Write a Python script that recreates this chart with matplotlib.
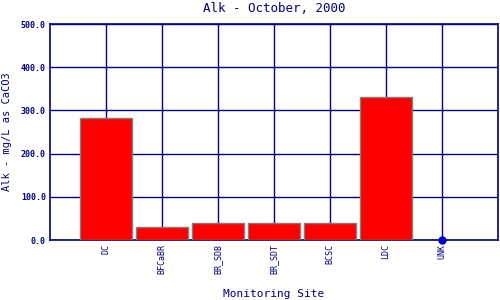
import numpy as np
import matplotlib
matplotlib.use("Agg")
import matplotlib.pyplot as plt

sites = ["DC", "BFCaBR", "BR_SDB", "BR_SDT", "BCSC", "LDC", "UNK"]
alk = [282.0, 31.0, 38.5, 38.5, 38.5, 331.0, np.nan]
yticks = [0, 100, 200, 300, 400, 500]

navy = "#000080"
plt.rcParams['font.family'] = ['DejaVu Sans Mono']

fig = plt.figure(figsize=(5, 3), dpi=100)
ax = fig.add_axes([0.1, 0.2, 0.896, 0.72])

x = np.arange(1, len(sites) + 1)
vals = np.array(alk)
ok = ~np.isnan(vals)
ax.bar(x[ok], vals[ok], width=0.93, color="red", edgecolor="gray", linewidth=1, zorder=3)
# missing value shown as a dot on the axis
ax.plot(x[~ok], np.zeros((~ok).sum()), "o", color="#0000cc", markersize=5, zorder=4, clip_on=False)

ax.set_xlim(0, len(sites) + 1)
ax.set_ylim(0, 500)
ax.set_xticks(x)
ax.set_xticklabels(sites, rotation=90, fontsize=6, color=navy)
ax.set_yticks(yticks)
ax.set_yticklabels(["%.1f" % v for v in yticks], fontsize=6, color=navy, fontweight="bold")
ax.tick_params(length=0, pad=3)
ax.grid(True, color=navy, linewidth=1, zorder=0)
for s in ax.spines.values():
    s.set_color(navy)
    s.set_linewidth(1.2)

ax.set_title("Alk - October, 2000", fontsize=9, color=navy, pad=9)
ax.set_xlabel("Monitoring Site", fontsize=8, color=navy, labelpad=11)
ax.set_ylabel("Alk - mg/L as CaCO3", fontsize=7.5, color=navy, labelpad=6)

fig.savefig("out.png", dpi=100)
